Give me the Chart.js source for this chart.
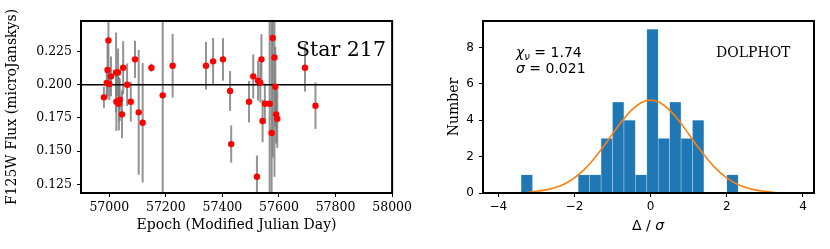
<!DOCTYPE html>
<html>
<head>
<meta charset="utf-8">
<script src="https://cdn.jsdelivr.net/npm/chart.js@4.4.0/dist/chart.umd.min.js"></script>
<style>
  body { margin: 0; background: #fff; }
  #wrap { position: relative; width: 830px; height: 249px; overflow: hidden; }
  #left { position: absolute; left: 0; top: 0; }
  #right { position: absolute; left: 415px; top: 0; }
  .note { position: absolute; line-height: 1; white-space: nowrap; color: #000; }
</style>
</head>
<body>
<div id="wrap">
  <canvas id="left" width="415" height="249"></canvas>
  <canvas id="right" width="415" height="249"></canvas>
  <div class="note" style="left:296px;top:39px;font-family:'DejaVu Serif';font-size:20.5px;">Star 217</div>
  <div class="note" style="left:516px;top:45px;font-family:'DejaVu Sans';font-size:14px;"><i>χ</i><i style="font-size:10px;position:relative;top:3px;">ν</i> = 1.74</div>
  <div class="note" style="left:516px;top:61px;font-family:'DejaVu Sans';font-size:14px;"><i>σ</i> = 0.021</div>
  <div class="note" style="left:716px;top:45px;font-family:'DejaVu Serif';font-size:14px;">DOLPHOT</div>
  <div class="note" style="left:632px;top:218px;font-family:'DejaVu Sans';font-size:14px;">Δ / <i>σ</i></div>
</div>
<script>
// light curve, star 217
var epochs = [56981, 56991, 56994, 56997, 57000, 57006, 57024, 57025, 57031, 57034,
              57037, 57045, 57049, 57063, 57076, 57091, 57104, 57118, 57149, 57189,
              57224, 57342, 57367, 57402, 57427, 57431, 57494, 57509, 57522, 57526,
              57534, 57538, 57542, 57550, 57567, 57574, 57578, 57584, 57587, 57590,
              57594, 57692, 57729];
var fluxes = [0.1905, 0.2013, 0.2111, 0.2334, 0.2005, 0.2063, 0.2093, 0.1872, 0.2093, 0.1857,
              0.1887, 0.1777, 0.2128, 0.2000, 0.1872, 0.2191, 0.1792, 0.1714, 0.2128, 0.1920,
              0.2143, 0.2143, 0.2176, 0.2191, 0.1953, 0.1553, 0.1872, 0.2063, 0.1307, 0.2030,
              0.2015, 0.2191, 0.1727, 0.1857, 0.1857, 0.1636, 0.2352, 0.2206, 0.1985, 0.1777,
              0.1744, 0.2128, 0.1842];
var fluxErrors = [0.008, 0.012, 0.020, 0.030, 0.012, 0.015, 0.030, 0.022, 0.018, 0.020,
                  0.016, 0.018, 0.020, 0.016, 0.015, 0.014, 0.047, 0.045, 0.003, 0.100,
                  0.024, 0.018, 0.0176, 0.016, 0.015, 0.014, 0.0156, 0.0166, 0.016, 0.015,
                  0.015, 0.019, 0.016, 0.015, 0.090, 0.090, 0.090, 0.090, 0.030, 0.022,
                  0.022, 0.018, 0.0175];
var meanFlux = 0.200;
var epochTicks = [57000, 57200, 57400, 57600, 57800, 58000];
var fluxTicks = [0.125, 0.150, 0.175, 0.200, 0.225];

// histogram of deviations
var binEdges = [-3.4, -3.1, -2.8, -2.5, -2.2, -1.9, -1.6, -1.3, -1.0, -0.7,
                -0.4, -0.1, 0.2, 0.5, 0.8, 1.1, 1.4, 1.7, 2.0, 2.3];
var binCounts = [1, 0, 0, 0, 0, 1, 1, 3, 5, 4, 1, 9, 3, 5, 3, 4, 0, 0, 1];
var curveX = [-3.25, -3.0, -2.75, -2.5, -2.25, -2.0, -1.75, -1.5, -1.25, -1.0, -0.75, -0.5, -0.25,
              0, 0.25, 0.5, 0.75, 1.0, 1.25, 1.5, 1.75, 2.0, 2.25, 2.5, 2.75, 3.0, 3.25];
var curveY = [0.04, 0.09, 0.17, 0.30, 0.51, 0.83, 1.27, 1.84, 2.51, 3.24, 3.95, 4.55, 4.96,
              5.1, 4.96, 4.55, 3.95, 3.24, 2.51, 1.84, 1.27, 0.83, 0.51, 0.30, 0.17, 0.09, 0.04];
var deltaTicks = [-4, -2, 0, 2, 4];
var countTicks = [0, 2, 4, 6, 8];

var frame = {
  id: 'frame',
  afterDatasetsDraw: function(chart) {
    var a = chart.chartArea, ctx = chart.ctx;
    ctx.save();
    ctx.strokeStyle = '#000';
    ctx.lineWidth = 2;
    ctx.strokeRect(a.left, a.top, a.right - a.left, a.bottom - a.top);
    ctx.restore();
  }
};

var errorBars = {
  id: 'errorBars',
  beforeDatasetsDraw: function(chart) {
    var a = chart.chartArea, ctx = chart.ctx;
    var xs = chart.scales.x, ys = chart.scales.y;
    ctx.save();
    ctx.beginPath();
    ctx.rect(a.left, a.top, a.right - a.left, a.bottom - a.top);
    ctx.clip();
    ctx.strokeStyle = 'rgba(120,120,120,0.8)';
    ctx.lineWidth = 2;
    for (var i = 0; i < epochs.length; i++) {
      var x = xs.getPixelForValue(epochs[i]);
      ctx.beginPath();
      ctx.moveTo(x, ys.getPixelForValue(fluxes[i] - fluxErrors[i]));
      ctx.lineTo(x, ys.getPixelForValue(fluxes[i] + fluxErrors[i]));
      ctx.stroke();
    }
    ctx.restore();
  }
};

function fixTicks(list) {
  return function(scale) {
    scale.ticks = list.map(function(v) { return { value: v }; });
  };
}

var serifTicks = { family: 'DejaVu Serif', size: 12.5 };
var sansTicks = { family: 'DejaVu Sans', size: 12 };
var tickGrid = { display: true, drawOnChartArea: false, drawTicks: true, tickLength: 4, tickColor: '#000', tickWidth: 1, offset: false };

var pts = epochs.map(function(e, i) { return { x: e, y: fluxes[i] }; });

new Chart(document.getElementById('left').getContext('2d'), {
  type: 'scatter',
  data: {
    datasets: [{
      data: pts,
      backgroundColor: '#ff0000',
      borderColor: '#ff0000',
      borderWidth: 0,
      pointRadius: 3.2,
      order: 0
    }, {
      type: 'line',
      data: [{ x: 56900, y: meanFlux }, { x: 58000, y: meanFlux }],
      borderColor: '#000',
      borderWidth: 1.6,
      pointRadius: 0,
      order: 1
    }]
  },
  options: {
    responsive: false,
    animation: false,
    devicePixelRatio: 1,
    layout: { padding: { top: 21, right: 3, left: 0, bottom: 0 } },
    plugins: { legend: { display: false }, tooltip: { enabled: false } },
    scales: {
      x: {
        type: 'linear', min: 56900, max: 58000,
        afterBuildTicks: fixTicks(epochTicks),
        afterFit: function(s) { s.height = 56; },
        grid: tickGrid,
        border: { display: false },
        ticks: { color: '#000', font: serifTicks, padding: 3, maxRotation: 0,
                 callback: function(v) { return String(v); } },
        title: { display: true, text: 'Epoch (Modified Julian Day)', color: '#000',
                 font: { family: 'DejaVu Serif', size: 14 }, padding: { top: 0, bottom: 15 } }
      },
      y: {
        type: 'linear', min: 0.11845, max: 0.2480,
        afterBuildTicks: fixTicks(fluxTicks),
        afterFit: function(s) { s.width = 81; },
        grid: tickGrid,
        border: { display: false },
        ticks: { color: '#000', font: serifTicks, padding: 5,
                 callback: function(v) { return v.toFixed(3); } },
        title: { display: true, text: 'F125W Flux (microJanskys)', color: '#000',
                 font: { family: 'DejaVu Serif', size: 14 }, padding: { top: 4, bottom: 0 } }
      }
    }
  },
  plugins: [errorBars, frame]
});

var bars = binCounts.map(function(c, i) {
  return { x: (binEdges[i] + binEdges[i + 1]) / 2, y: c };
});
var curve = curveX.map(function(x, i) { return { x: x, y: curveY[i] }; });

new Chart(document.getElementById('right').getContext('2d'), {
  type: 'bar',
  data: {
    datasets: [{
      type: 'line',
      data: curve,
      borderColor: '#ff7f0e',
      borderWidth: 1.6,
      pointRadius: 0,
      tension: 0.4,
      order: 0
    }, {
      data: bars,
      backgroundColor: '#1f77b4',
      borderColor: 'rgba(170,205,235,0.9)',
      borderWidth: 0.6,
      barPercentage: 1,
      categoryPercentage: 1,
      order: 1
    }]
  },
  options: {
    responsive: false,
    animation: false,
    devicePixelRatio: 1,
    layout: { padding: { top: 21, right: 16, left: 0, bottom: 0 } },
    plugins: { legend: { display: false }, tooltip: { enabled: false } },
    scales: {
      x: {
        type: 'linear', min: -4.40, max: 4.29, offset: false,
        afterBuildTicks: fixTicks(deltaTicks),
        afterFit: function(s) { s.height = 56; },
        grid: tickGrid,
        border: { display: false },
        ticks: { color: '#000', font: sansTicks, padding: 3, maxRotation: 0,
                 callback: function(v) { return v < 0 ? '\u2212' + Math.abs(v) : String(v); } }
      },
      y: {
        type: 'linear', min: 0, max: 9.45,
        afterBuildTicks: fixTicks(countTicks),
        afterFit: function(s) { s.width = 68; },
        grid: tickGrid,
        border: { display: false },
        ticks: { color: '#000', font: sansTicks, padding: 5 },
        title: { display: true, text: 'Number', color: '#000',
                 font: { family: 'DejaVu Serif', size: 14 }, padding: { top: 31, bottom: 0 } }
      }
    }
  },
  plugins: [frame]
});
</script>
</body>
</html>
